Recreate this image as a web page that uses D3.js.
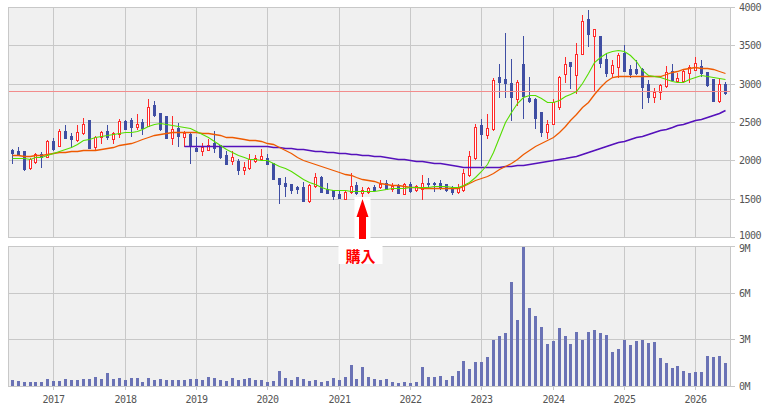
<!DOCTYPE html>
<html lang="ja">
<head>
<meta charset="utf-8">
<title>月足チャート</title>
<script src="https://cdn.jsdelivr.net/npm/d3@7"></script>
<style>
  body { margin: 0; background: #fff; }
  svg { display: block; }
  .axis text { font-family: "DejaVu Sans Mono", monospace; font-size: 10px; fill: #555; letter-spacing: -0.5px; }
  .axis line { stroke: #c8c8c8; shape-rendering: crispEdges; }
  .axis path { display: none; }
  .ma { fill: none; }
</style>
</head>
<body>
<div id="chart"></div>
<script>
// 月足: 2016年6月 〜 2026年6月 (index 0 = 2016-06)
var startYear = 2016, startMonth = 6;

// [始値, 高値, 安値, 終値]
var ohlc = [
  [2135,2148,1970,2100],[2122,2174,2070,2083],[2122,2122,1874,1892],[1896,2035,1892,2018],
  [1983,2100,1961,2087],[2078,2109,1918,2039],[2048,2270,2044,2248],[2252,2287,2135,2153],
  [2192,2405,2187,2383],[2383,2461,2296,2296],[2322,2361,2179,2279],[2270,2457,2257,2370],
  [2352,2552,2344,2470],[2526,2526,2166,2166],[2179,2318,2148,2300],[2300,2383,2222,2365],
  [2383,2461,2274,2300],[2283,2374,2226,2352],[2344,2539,2309,2509],[2513,2526,2405,2413],
  [2526,2552,2322,2439],[2439,2605,2413,2470],[2500,2539,2348,2426],[2452,2800,2452,2692],
  [2722,2774,2583,2592],[2618,2618,2396,2413],[2578,2578,2287,2296],[2296,2578,2218,2405],
  [2422,2483,2192,2322],[2309,2387,2192,2361],[2344,2357,1970,2187],[2161,2305,2126,2126],
  [2126,2231,2074,2174],[2139,2278,2131,2200],[2231,2383,2113,2165],[2196,2196,2026,2044],
  [2070,2126,1952,1957],[1992,2122,1957,2039],[1996,2018,1818,1879],[1879,1983,1827,1909],
  [1896,2083,1892,2018],[1996,2070,1983,2031],[2013,2148,2009,2052],[2031,2083,1952,1957],
  [1961,1961,1761,1761],[1770,1770,1448,1692],[1705,1787,1540,1670],[1692,1692,1579,1618],
  [1648,1666,1570,1622],[1648,1713,1474,1474],[1466,1687,1461,1679],[1666,1831,1657,1779],
  [1787,1796,1583,1592],[1631,1709,1570,1579],[1614,1614,1496,1540],[1561,1614,1505,1509],
  [1500,1605,1496,1592],[1583,1835,1574,1661],[1674,1713,1561,1570],[1570,1648,1505,1614],
  [1587,1657,1579,1640],[1657,1674,1605,1609],[1653,1744,1640,1696],[1709,1744,1622,1622],
  [1622,1700,1605,1666],[1670,1687,1579,1579],[1566,1700,1566,1696],[1692,1722,1592,1605],
  [1609,1679,1605,1666],[1631,1813,1496,1700],[1709,1766,1635,1692],[1700,1722,1605,1687],
  [1709,1744,1631,1640],[1687,1696,1605,1613],[1652,1666,1566,1583],[1583,1692,1574,1648],
  [1613,1883,1605,1835],[1809,2126,1800,2052],[2026,2470,2018,2435],[2461,2535,1939,2348],
  [2335,2604,2296,2418],[2405,3078,2396,3044],[3091,3257,2826,3026],[3061,3661,2826,3013],
  [3004,3322,2522,2826],[2796,3044,2722,3018],[3252,3622,2557,2844],[2818,3083,2765,2774],
  [2800,2809,2426,2557],[2635,2635,2318,2374],[2374,2530,2296,2478],[2474,2796,2470,2765],
  [2692,3100,2670,3091],[3130,3348,3018,3252],[3278,3287,2939,3235],[3113,3530,2878,3387],
  [3383,3896,3383,3817],[3843,3965,3496,3652],[3626,3713,2904,3713],[3626,3626,3213,3274],
  [3322,3396,3104,3139],[3143,3313,3100,3239],[3222,3396,3091,3374],[3404,3504,3170,3170],
  [3187,3243,3091,3126],[3191,3309,3126,3139],[3191,3200,2687,2961],[2996,3048,2765,2826],
  [2830,2939,2765,2891],[2887,2991,2800,2978],[2965,3230,2957,3157],[3165,3261,3043,3052],
  [3039,3135,3026,3074],[3035,3187,3026,3170],[3143,3243,3017,3217],[3183,3348,3174,3270],
  [3235,3304,3104,3135],[3148,3157,2974,2983],[3061,3061,2778,2778],[2778,3061,2765,2996],
  [3000,3026,2865,2874]
];

// 出来高 (百万株)
var volume = [
  0.39,0.32,0.26,0.26,0.26,0.26,0.45,0.32,0.32,0.45,0.39,0.39,0.45,0.45,0.58,0.45,0.84,0.45,0.51,0.39,
  0.51,0.51,0.26,0.51,0.39,0.45,0.39,0.39,0.39,0.39,0.45,0.45,0.39,0.58,0.51,0.39,0.32,0.51,0.39,0.45,
  0.51,0.39,0.39,0.26,0.32,0.96,0.51,0.39,0.58,0.45,0.32,0.39,0.26,0.32,0.51,0.39,0.58,1.35,0.45,1.22,
  0.58,0.45,0.39,0.45,0.26,0.19,0.26,0.19,0.26,1.22,0.58,0.58,0.64,0.39,0.64,0.96,1.61,1.09,1.54,1.54,
  1.86,2.96,3.21,3.41,6.69,4.24,8.96,5.01,4.50,3.79,2.70,2.89,3.73,3.21,2.70,3.47,2.96,3.47,3.60,3.41,
  3.28,2.19,2.38,2.96,2.64,2.89,2.96,2.76,2.83,1.80,1.48,1.16,1.29,0.96,0.84,0.90,0.90,1.93,1.86,1.93,
  1.48
];

// 移動平均 (短期・緑)
var maShort = [
  2035,2031,2026,2022,2039,2048,2066,2092,2118,2148,2179,2209,2262,2282,2302,2318,2331,2339,2352,2365,
  2374,2383,2405,2452,2479,2483,2479,2461,2448,2435,2418,2387,2344,2300,2252,2196,2148,2113,2070,2039,
  2022,2018,2009,2000,1961,1926,1896,1861,1813,1753,1713,1687,1648,1631,1614,1609,1609,1605,1605,1600,
  1600,1605,1614,1627,1635,1640,1644,1648,1653,1657,1657,1661,1661,1661,1657,1657,1679,1722,1787,1861,
  1948,2113,2309,2505,2635,2744,2830,2852,2852,2809,2765,2757,2787,2844,2861,2904,3004,3140,3278,3352,
  3404,3426,3435,3430,3374,3296,3178,3113,3100,3091,3061,3035,3026,3026,3061,3091,3113,3104,3091,3078,
  3057
];

// 移動平均 (中期・橙)
var maMid = [
  2074,2066,2061,2061,2066,2074,2083,2092,2105,2109,2118,2126,2131,2131,2139,2152,2165,2179,2200,2218,
  2231,2248,2274,2300,2326,2344,2352,2365,2370,2374,2374,2370,2361,2352,2339,2326,2309,2300,2291,2278,
  2270,2261,2248,2231,2209,2179,2135,2092,2040,2005,1974,1953,1927,1905,1874,1848,1827,1805,1783,1761,
  1744,1727,1709,1692,1683,1674,1661,1653,1648,1644,1644,1644,1644,1640,1635,1640,1660,1700,1740,1775,
  1800,1840,1885,1925,1970,2020,2085,2140,2190,2225,2260,2300,2370,2450,2530,2610,2690,2760,2860,2960,
  3040,3085,3100,3100,3100,3100,3100,3098,3096,3096,3130,3157,3170,3187,3204,3213,3209,3200,3187,3165,
  3143
];

// 移動平均 (長期・紫) — 2018年11月から表示
var maLong = [
  null,null,null,null,null,null,null,null,null,null,null,null,null,null,null,null,null,null,null,null,
  null,null,null,null,null,null,null,null,null,2185,2190,2192,2192,2192,2192,2190,2190,2190,2190,2188,
  2188,2188,2186,2186,2179,2179,2161,2157,2152,2148,2135,2126,2118,2109,2109,2100,2096,2087,2079,2074,
  2066,2061,2053,2044,2035,2022,2018,2009,1996,1987,1979,1970,1966,1952,1944,1931,1918,1913,1909,1909,
  1909,1909,1913,1922,1931,1935,1944,1957,1970,1979,1987,2000,2018,2031,2044,2061,2087,2113,2140,2165,
  2190,2215,2235,2255,2275,2300,2320,2345,2365,2390,2410,2430,2455,2475,2500,2520,2545,2565,2590,2615,
  2650
];

var priceTicks = [1000, 1500, 2000, 2500, 3000, 3500, 4000];
var volumeTicks = [0, 3, 6, 9];
var yearTicks = [2017, 2018, 2019, 2020, 2021, 2022, 2023, 2024, 2025, 2026];
var refPrice = 2900;      // 水平線
var buyIndex = 59;        // 購入 (2021年5月)
var buyLabel = "購入";

var width = 764, height = 406;
var left = 8, right = 731;
var pTop = 7, pBottom = 237, vTop = 246, vBottom = 386;

var monthIndex = function(y) { return (y - startYear) * 12 + 1 - startMonth; };

var x = d3.scaleLinear().domain([monthIndex(2017), monthIndex(2026)]).range([53.3, 695.3])
    .interpolate(d3.interpolateRound);
var yP = d3.scaleLinear().domain([1000, 4000]).rangeRound([pBottom, pTop]);
var yV = d3.scaleLinear().domain([0, 9]).rangeRound([vBottom, vTop]);

var svg = d3.select("#chart").append("svg")
    .attr("width", width)
    .attr("height", height);

// パネル背景
svg.append("rect").attr("x", left).attr("y", pTop).attr("width", right - left).attr("height", pBottom - pTop + 1).attr("fill", "#f0f0f0");
svg.append("rect").attr("x", left).attr("y", vTop).attr("width", right - left).attr("height", vBottom - vTop + 1).attr("fill", "#f0f0f0");

// 縦グリッド
svg.append("g").attr("class", "axis")
    .attr("transform", "translate(0," + pBottom + ")")
    .call(d3.axisBottom(x).tickValues(yearTicks.map(monthIndex)).tickSize(-(pBottom - pTop)).tickFormat(""));
svg.append("g").attr("class", "axis")
    .attr("transform", "translate(0," + (vBottom + 4) + ")")
    .call(d3.axisBottom(x).tickValues(yearTicks.map(monthIndex)).tickSize(-(vBottom + 4 - vTop)).tickPadding(6)
        .tickFormat(function(d) { return startYear + Math.floor((d + startMonth - 1) / 12); }));

// 横グリッド + 右目盛り
svg.append("g").attr("class", "axis")
    .attr("transform", "translate(" + (right + 4) + ",0)")
    .call(d3.axisRight(yP).tickValues(priceTicks).tickSize(-(right + 4 - left)).tickPadding(4).tickFormat(d3.format("d")))
    .selectAll("text").filter(function(d) { return d === 1000; }).attr("dy", "0.1em");
svg.append("g").attr("class", "axis")
    .attr("transform", "translate(" + (right + 4) + ",0)")
    .call(d3.axisRight(yV).tickValues(volumeTicks).tickSize(-(right + 4 - left)).tickPadding(4).tickFormat(function(d) { return d + "M"; }))
    .selectAll("text").filter(function(d) { return d === 9; }).attr("dy", "0.5em");

// 左右の枠
[[pTop, pBottom], [vTop, vBottom]].forEach(function(p) {
  [left + 0.5, right - 0.5].forEach(function(xx) {
    svg.append("line").attr("x1", xx).attr("x2", xx).attr("y1", p[0]).attr("y2", p[1] + 1)
      .attr("stroke", "#c8c8c8").attr("shape-rendering", "crispEdges");
  });
});

// ローソク足
var candles = svg.append("g").attr("shape-rendering", "crispEdges");
ohlc.forEach(function(d, i) {
  var cx = x(i), up = d[3] >= d[0];
  var col = up ? "#ff2a2a" : "#3f4ea3";
  candles.append("rect").attr("x", cx).attr("y", yP(d[1])).attr("width", 1)
    .attr("height", Math.max(1, yP(d[2]) - yP(d[1]) + 1)).attr("fill", col);
  if (up) {
    var t = yP(d[3]), b = yP(d[0]);
    candles.append("rect").attr("x", cx - 0.5).attr("y", t + 0.5).attr("width", 2)
      .attr("height", Math.max(0, b - t)).attr("fill", "#fff").attr("stroke", col);
  } else {
    var t2 = yP(d[0]), b2 = yP(d[3]);
    candles.append("rect").attr("x", cx - 1).attr("y", t2).attr("width", 3)
      .attr("height", Math.max(1, b2 - t2 + 1)).attr("fill", col);
  }
});

// 水平線
svg.append("line").attr("x1", left + 1).attr("x2", right - 1)
  .attr("y1", yP(refPrice) + 0.5).attr("y2", yP(refPrice) + 0.5)
  .attr("stroke", "#f28c8c").attr("shape-rendering", "crispEdges");

// 移動平均線
function maLine(values, color, w) {
  var line = d3.line()
    .defined(function(d) { return d != null; })
    .x(function(d, i) { return x(i) + 0.5; })
    .y(function(d) { return yP(d) + 0.5; });
  svg.append("path").attr("class", "ma").attr("d", line(values))
    .attr("stroke", color).attr("stroke-width", w);
}
maLine(maLong, "#5511bb", 1.7);
maLine(maMid, "#ee5a00", 1.3);
maLine(maShort, "#55dd00", 1.1);

// 出来高
svg.append("g").attr("shape-rendering", "crispEdges")
  .selectAll("rect").data(volume).join("rect")
    .attr("x", function(d, i) { return x(i) - 1; })
    .attr("y", function(d) { return yV(d); })
    .attr("width", 3)
    .attr("height", function(d) { return vBottom - yV(d); })
    .attr("fill", "#6a72b5");

// 購入の矢印
var ax = x(buyIndex) + 0.5, tipY = yP(ohlc[buyIndex][2]) + 1;
svg.append("rect").attr("x", ax - 8).attr("y", tipY - 2).attr("width", 16).attr("height", pBottom + 2 - tipY + 2).attr("fill", "#fff");
svg.append("path")
  .attr("d", "M" + ax + "," + tipY + "L" + (ax + 6) + "," + (tipY + 18) + "L" + (ax + 3.5) + "," + (tipY + 18) +
        "L" + (ax + 3.5) + "," + (pBottom + 2) + "L" + (ax - 3.5) + "," + (pBottom + 2) + "L" + (ax - 3.5) + "," + (tipY + 18) +
        "L" + (ax - 6) + "," + (tipY + 18) + "Z")
  .attr("fill", "#ff0000");
svg.append("rect").attr("x", ax - 24).attr("y", vTop).attr("width", 44).attr("height", 18).attr("fill", "#fff");
svg.append("text").attr("x", ax - 2).attr("y", vTop + 9)
  .attr("text-anchor", "middle").attr("dominant-baseline", "central")
  .attr("font-family", "'Noto Sans CJK JP', sans-serif").attr("font-weight", "bold").attr("font-size", 15)
  .attr("fill", "#ff0000").text(buyLabel);
</script>
</body>
</html>
